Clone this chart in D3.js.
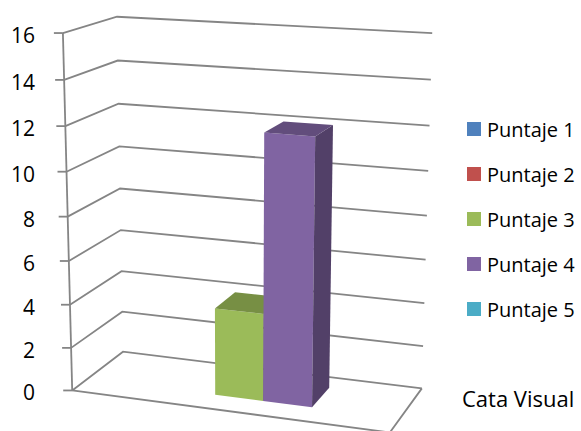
<!DOCTYPE html>
<html><head><meta charset="utf-8">
<script src="https://cdn.jsdelivr.net/npm/d3@7"></script>
<style>html,body{margin:0;padding:0;background:#fff;} svg{display:block}</style>
</head><body>
<svg id="chart" width="581" height="431"></svg>
<script>
const categories = ["Cata Visual"];
const seriesNames = ["Puntaje 1","Puntaje 2","Puntaje 3","Puntaje 4","Puntaje 5"];
const seriesValues = [0, 0, 4, 12, 0];
const seriesColors = ["#4F81BD","#C0504D","#9BBB59","#8064A2","#4BACC6"];
const yTicks = [0,2,4,6,8,10,12,14,16];

// Layout: where the corners of the 3D plot box land on screen
// world X 0..1 (left→right), Y 0..1 (value), Z 0 (front)..1 (back)
const anchors = [
  {w:[0,0,0], p:[72,390]},
  {w:[0,1,0], p:[62,34]},
  {w:[0,0,1], p:[123,352]},
  {w:[0,1,1], p:[118,16]},
  {w:[1,0,1], p:[421,389]},
  {w:[1,1,1], p:[432,33]},
  {w:[1,0,0], p:[391,432]}
];
const barDepth = [0.3, 0.76];     // front / back of bars in world Z
const gapWidth = 1.5;              // Excel-like gap width (bar widths)
const fontFamily = "'Open Sans', 'Liberation Sans', Arial, sans-serif";

function solveCamera(pts){
  const S = 100;
  const A=[], b=[];
  pts.forEach(({w:[X,Y,Z],p:[u0,v0]})=>{
    const u=u0/S, v=v0/S;
    A.push([X,Y,Z,1,0,0,0,0,-u*X,-u*Y,-u*Z]); b.push(u);
    A.push([0,0,0,0,X,Y,Z,1,-v*X,-v*Y,-v*Z]); b.push(v);
  });
  const n=11;
  const M = Array.from({length:n},(_,i)=>{
    const row = new Array(n+1).fill(0);
    for(let j=0;j<n;j++) for(let k=0;k<A.length;k++) row[j]+=A[k][i]*A[k][j];
    for(let k=0;k<A.length;k++) row[n]+=A[k][i]*b[k];
    return row;
  });
  for(let c=0;c<n;c++){
    let piv=c; for(let r=c+1;r<n;r++) if(Math.abs(M[r][c])>Math.abs(M[piv][c])) piv=r;
    [M[c],M[piv]]=[M[piv],M[c]];
    for(let r=0;r<n;r++){ if(r===c) continue; const f=M[r][c]/M[c][c]; for(let k=c;k<=n;k++) M[r][k]-=f*M[c][k]; }
  }
  const p = M.map((row,i)=>row[n]/row[i]);
  return ([X,Y,Z])=>{
    const w = p[8]*X+p[9]*Y+p[10]*Z+1;
    return [S*(p[0]*X+p[1]*Y+p[2]*Z+p[3])/w, S*(p[4]*X+p[5]*Y+p[6]*Z+p[7])/w];
  };
}
const proj = solveCamera(anchors);

const y = d3.scaleLinear().domain([0,16]).range([0,1]);
const xCat = d3.scaleBand().domain(categories).range([0,1]);
const bw = xCat.bandwidth();
const groupPad = bw * (gapWidth/2) / (seriesNames.length + gapWidth);
const xSeries = d3.scaleBand().domain(seriesNames)
  .range([xCat(categories[0]) + groupPad, xCat(categories[0]) + bw - groupPad]);

const svg = d3.select("#chart");
const line = d3.line();
const gridColor = "#858585";

const grid = svg.append("g").attr("fill","none").attr("stroke",gridColor).attr("stroke-width",1.8);
// wall gridlines
yTicks.forEach(t=>{
  grid.append("path").attr("d", line([proj([0,y(t),0]), proj([0,y(t),1]), proj([1,y(t),1])]));
});
// floor
grid.append("path").attr("d", line([proj([0,0,0]), proj([1,0,0]), proj([1,0,1])]));
// value axis line
grid.append("path").attr("d", line([proj([0,y(0),0]), proj([0,y(16),0])]));
// tick marks
yTicks.forEach(t=>{
  const [px,py] = proj([0,y(t),0]);
  grid.append("path").attr("d", line([[px-9,py],[px,py]]));
});
// tick labels
svg.append("g").selectAll("text").data(yTicks).join("text")
  .attr("x", 35)
  .attr("y", t=>proj([0,y(t),0])[1] + 2)
  .attr("text-anchor","end")
  .attr("dominant-baseline","central")
  .attr("font-family",fontFamily)
  .attr("font-size",21)
  .attr("fill","#000")
  .text(d=>d);

// bars (left to right so right bars cover left bars' sides)
const bars = svg.append("g");
seriesNames.forEach((s,i)=>{
  const v = seriesValues[i];
  if(!(v>0)) return;
  const x0 = xSeries(s), x1 = x0 + xSeries.bandwidth();
  const [zf,zb] = barDepth;
  const yv = y(v), y0 = y(0);
  const base = d3.color(seriesColors[i]);
  const g = bars.append("g");
  g.append("path").attr("fill", base.formatHex())
    .attr("d", line([proj([x0,y0,zf]),proj([x1,y0,zf]),proj([x1,yv,zf]),proj([x0,yv,zf])])+"Z");
  g.append("path").attr("fill", base.darker(1.25).formatHex())
    .attr("d", line([proj([x1,y0,zf]),proj([x1,y0,zb]),proj([x1,yv,zb]),proj([x1,yv,zf])])+"Z");
  g.append("path").attr("fill", base.darker(0.75).formatHex())
    .attr("d", line([proj([x0,yv,zf]),proj([x1,yv,zf]),proj([x1,yv,zb]),proj([x0,yv,zb])])+"Z");
});

// legend
const legend = svg.append("g").selectAll("g").data(seriesNames).join("g")
  .attr("transform",(d,i)=>`translate(467,${129 + i*45})`);
legend.append("rect").attr("x",0).attr("y",-7).attr("width",14).attr("height",14)
  .attr("fill",(d,i)=>seriesColors[i]);
legend.append("text").attr("x",20).attr("y",0)
  .attr("dominant-baseline","central")
  .attr("font-family",fontFamily)
  .attr("font-size",20)
  .attr("fill","#000")
  .text(d=>d);

// category label
svg.append("text").attr("x",462).attr("y",398)
  .attr("dominant-baseline","central")
  .attr("font-family",fontFamily)
  .attr("font-size",22)
  .attr("fill","#000")
  .text(categories[0]);
</script>
</body></html>
